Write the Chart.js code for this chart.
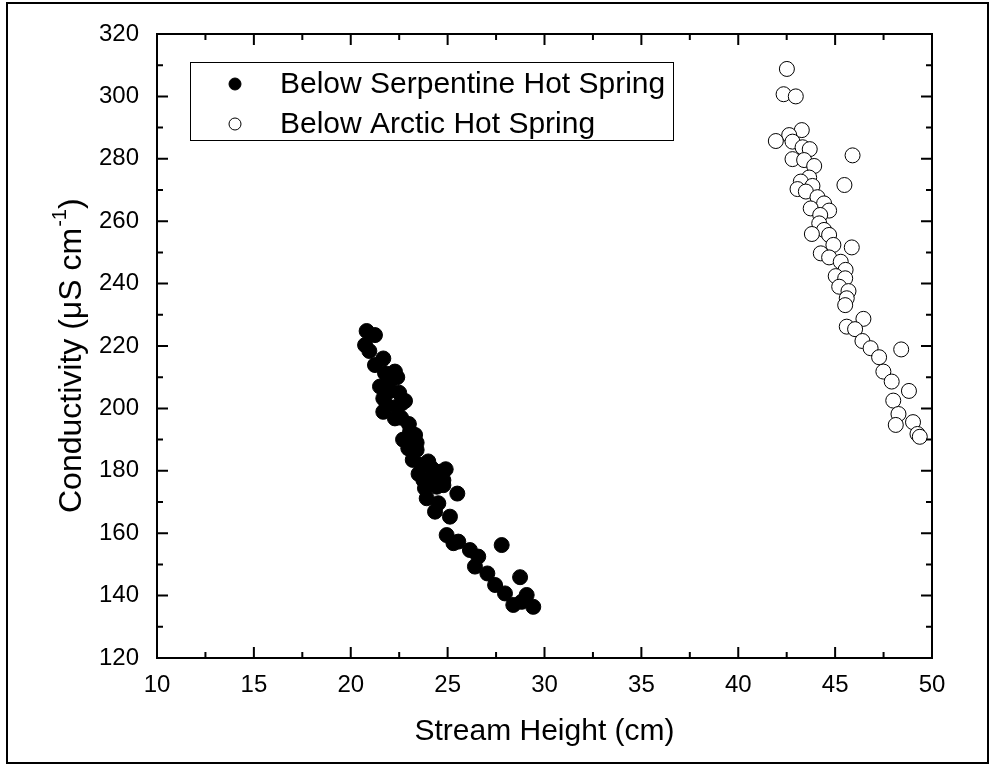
<!DOCTYPE html>
<html lang="en">
<head>
    <meta charset="UTF-8">
    <title>Conductivity vs Stream Height</title>
    <script src="https://cdn.jsdelivr.net/npm/chart.js@4.4.0/dist/chart.umd.min.js"></script>
    <style>
        body {
            margin: 0;
            background: white;
        }
        .wrap {
            position: relative;
            width: 995px;
            height: 765px;
        }
    </style>
</head>
<body>
    <div class="wrap">
        <canvas id="chart" width="995" height="765"></canvas>
    </div>

    <script>
        // Below Serpentine Hot Spring (filled circles)
        const serpentineX = [20.82, 21.25, 20.74, 20.96, 21.68, 21.25, 22.28, 21.77, 22.03, 21.51,
            22.80, 21.68, 22.37, 21.86, 21.68, 22.63, 22.28, 23.06, 23.32, 22.97,
            23.40, 23.66, 24.18, 24.61, 23.75, 24.78, 23.83, 24.44, 25.50, 24.78,
            23.92, 24.52, 24.35, 25.12, 24.95, 25.55, 25.30, 27.79, 26.15, 26.58,
            26.41, 27.05, 28.74, 27.45, 27.96, 29.08, 28.39, 28.82, 29.42, 22.50,
            22.00, 22.60, 23.00, 22.70, 23.20, 23.50, 24.00, 24.20, 24.00, 24.90,
            24.50, 23.40, 22.40];
        const serpentineY = [224.8, 223.5, 220.3, 218.4, 216.0, 213.9, 211.8, 211.3, 208.6, 207.0,
            202.4, 203.2, 200.5, 201.1, 198.9, 201.6, 196.8, 192.5, 191.5, 187.2,
            186.7, 181.9, 180.8, 179.7, 177.0, 177.0, 174.4, 174.9, 172.7, 175.4,
            171.2, 169.6, 166.9, 165.3, 159.4, 157.3, 156.8, 156.2, 154.6, 152.5,
            149.3, 147.1, 145.9, 143.4, 140.7, 140.2, 137.0, 138.0, 136.4, 205.0,
            205.5, 197.0, 195.0, 190.0, 183.5, 179.0, 183.0, 178.0, 176.0, 180.5,
            177.0, 189.0, 210.0];

        // Below Arctic Hot Spring (open circles)
        const arcticX = [42.51, 42.34, 42.97, 43.28, 42.63, 41.94, 42.80, 43.32, 43.69, 45.90,
            42.80, 43.40, 43.92, 43.66, 43.23, 45.48, 43.06, 43.83, 43.49, 44.09,
            44.43, 43.74, 44.69, 44.23, 44.18, 44.43, 43.80, 44.69, 44.91, 45.86,
            44.26, 44.69, 45.29, 45.54, 45.03, 45.52, 45.21, 45.69, 45.60, 45.52,
            46.46, 45.60, 46.03, 46.41, 46.83, 48.41, 47.27, 47.49, 47.92, 48.81,
            48.00, 48.27, 48.13, 49.02, 49.25, 49.37];
        const arcticY = [308.8, 300.7, 300.0, 289.2, 287.6, 285.7, 285.5, 283.7, 283.1, 281.1,
            279.9, 279.6, 277.7, 274.0, 272.7, 271.6, 270.3, 271.3, 269.5, 267.7,
            265.7, 264.1, 263.4, 262.0, 259.3, 257.2, 255.9, 255.6, 252.4, 251.6,
            249.7, 248.4, 247.0, 244.4, 242.4, 241.7, 239.0, 237.6, 235.3, 233.1,
            228.7, 226.2, 225.4, 221.6, 219.3, 218.9, 216.4, 211.8, 208.6, 205.6,
            202.5, 198.2, 194.7, 195.6, 191.8, 190.9];

        const seriesNames = ['Below Serpentine Hot Spring', 'Below Arctic Hot Spring'];

        const FONT = '"Liberation Sans", Arial, sans-serif';

        // frame, inward ticks, legend and axis titles
        const decorations = {
            id: 'decorations',
            afterDraw(chart) {
                const ctx = chart.ctx;
                const area = chart.chartArea;
                const xs = chart.scales.x;
                const ys = chart.scales.y;
                ctx.save();

                // outer border
                ctx.strokeStyle = '#000';
                ctx.lineWidth = 2;
                ctx.strokeRect(7, 3, 981, 760);

                // plot box
                ctx.strokeRect(area.left, area.top, area.right - area.left, area.bottom - area.top);

                // ticks (major + minor), pointing inwards on all four sides
                ctx.beginPath();
                for (let v = 10; v <= 50; v += 2.5) {
                    const len = v % 5 === 0 ? 11 : 6;
                    const px = xs.getPixelForValue(v);
                    ctx.moveTo(px, area.bottom);
                    ctx.lineTo(px, area.bottom - len);
                    ctx.moveTo(px, area.top);
                    ctx.lineTo(px, area.top + len);
                }
                for (let v = 120; v <= 320; v += 10) {
                    const len = v % 20 === 0 ? 11 : 6;
                    const py = ys.getPixelForValue(v);
                    ctx.moveTo(area.left, py);
                    ctx.lineTo(area.left + len, py);
                    ctx.moveTo(area.right, py);
                    ctx.lineTo(area.right - len, py);
                }
                ctx.stroke();

                // x title
                ctx.fillStyle = '#000';
                ctx.font = '30px ' + FONT;
                ctx.textAlign = 'center';
                ctx.textBaseline = 'alphabetic';
                ctx.fillText('Stream Height (cm)', (area.left + area.right) / 2, 740);

                // y title with superscript, reading upwards from y = 513
                ctx.save();
                ctx.translate(81, 513);
                ctx.rotate(-Math.PI / 2);
                ctx.textAlign = 'left';
                const main = 'Conductivity (\u03BCS cm';
                ctx.font = '32px ' + FONT;
                const w1 = ctx.measureText(main).width;
                ctx.fillText(main, 0, 0);
                ctx.font = '20px ' + FONT;
                ctx.fillText('-1', w1 + 1, -15);
                const w2 = ctx.measureText('-1').width;
                ctx.font = '32px ' + FONT;
                ctx.fillText(')', w1 + w2 + 1, 0);
                ctx.restore();

                // legend
                ctx.lineWidth = 1;
                ctx.strokeRect(190.5, 62.5, 483, 78);
                const rows = [84, 124];
                chart.data.datasets.forEach((ds, i) => {
                    ctx.beginPath();
                    ctx.arc(235, rows[i], 6, 0, Math.PI * 2);
                    ctx.fillStyle = ds.backgroundColor;
                    ctx.fill();
                    ctx.strokeStyle = '#000';
                    ctx.lineWidth = 1;
                    ctx.stroke();
                    ctx.fillStyle = '#000';
                    ctx.font = '30px ' + FONT;
                    ctx.textAlign = 'left';
                    ctx.textBaseline = 'middle';
                    ctx.fillText(ds.label, 280, rows[i] + 1);
                });

                ctx.restore();
            }
        };

        new Chart(document.getElementById('chart'), {
            type: 'scatter',
            data: {
                datasets: [{
                    label: seriesNames[0],
                    data: serpentineX.map((x, i) => ({ x: x, y: serpentineY[i] })),
                    backgroundColor: '#000',
                    borderColor: '#000',
                    borderWidth: 1,
                    pointRadius: 7.5
                }, {
                    label: seriesNames[1],
                    data: arcticX.map((x, i) => ({ x: x, y: arcticY[i] })),
                    backgroundColor: '#fff',
                    borderColor: '#000',
                    borderWidth: 1,
                    pointRadius: 7.5
                }]
            },
            options: {
                responsive: false,
                animation: false,
                layout: {
                    padding: { top: 34, right: 63, left: 0, bottom: 0 }
                },
                plugins: {
                    legend: { display: false },
                    tooltip: { enabled: false }
                },
                scales: {
                    x: {
                        type: 'linear',
                        min: 10,
                        max: 50,
                        grid: { display: false },
                        border: { display: false },
                        ticks: {
                            stepSize: 5,
                            color: '#000',
                            padding: 5,
                            font: { family: FONT, size: 24 }
                        },
                        afterFit(scale) { scale.height = 107; }
                    },
                    y: {
                        type: 'linear',
                        min: 120,
                        max: 320,
                        grid: { display: false },
                        border: { display: false },
                        ticks: {
                            stepSize: 20,
                            color: '#000',
                            padding: 10,
                            font: { family: FONT, size: 24 }
                        },
                        afterFit(scale) { scale.width = 157; }
                    }
                }
            },
            plugins: [decorations]
        });
    </script>
</body>
</html>
